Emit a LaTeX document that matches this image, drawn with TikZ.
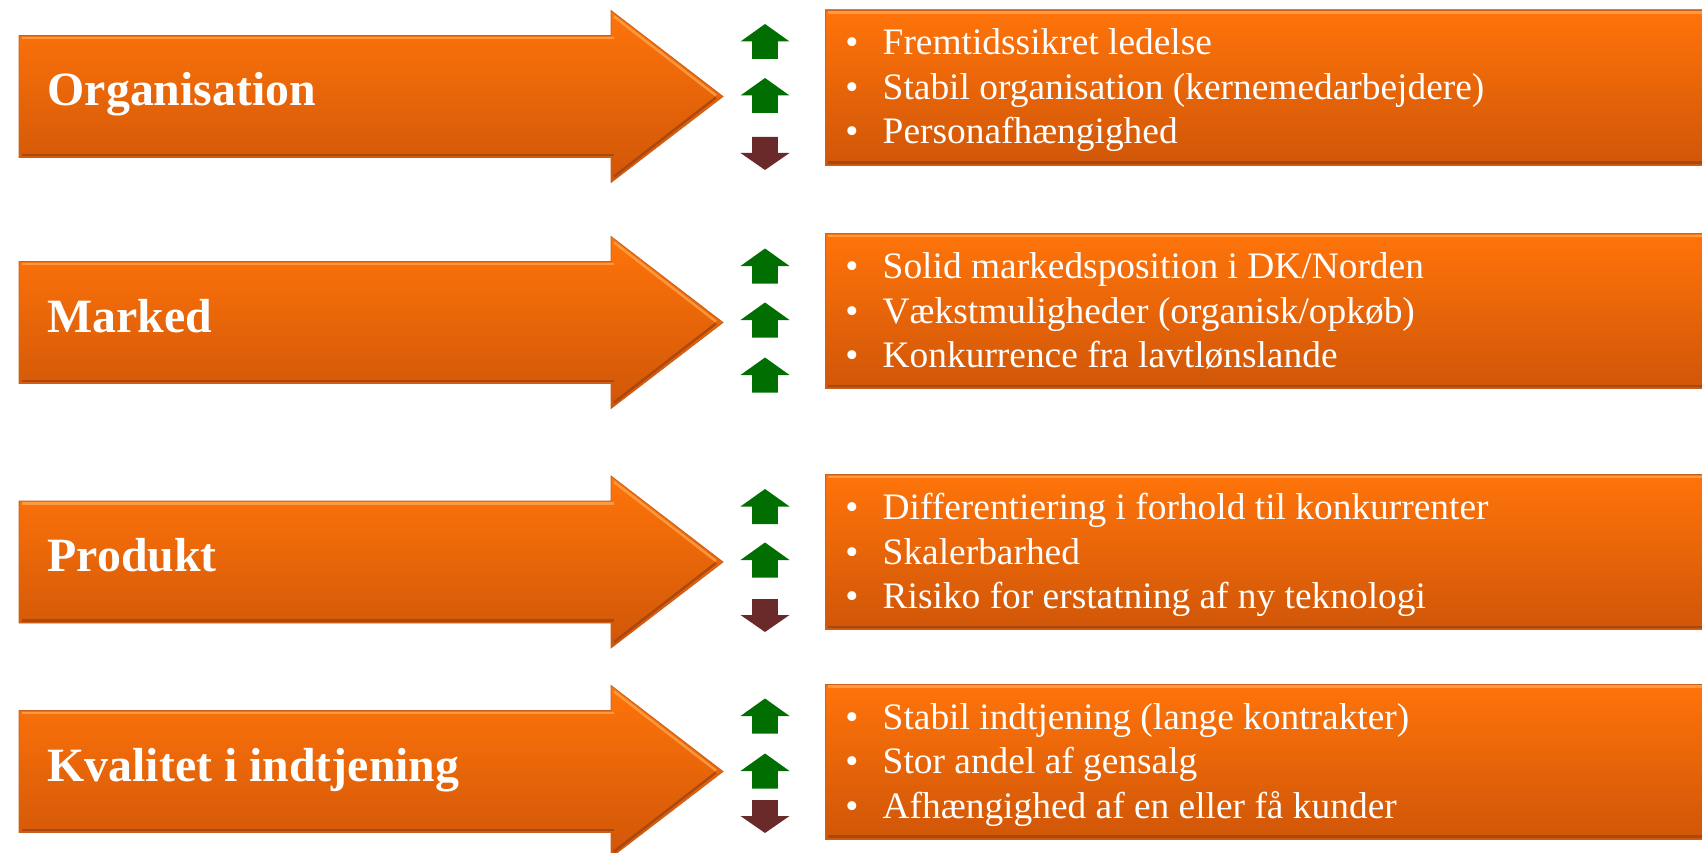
\documentclass[tikz,border=0pt]{standalone}
\usepackage{fontspec}
\setmainfont{Liberation Serif}
\definecolor{orTop}{RGB}{255,116,10}
\definecolor{orMid}{RGB}{240,104,6}
\definecolor{orBot}{RGB}{208,86,8}
\definecolor{orEdge}{RGB}{200,96,30}
\definecolor{orLight}{RGB}{255,168,80}
\definecolor{orDark}{RGB}{160,68,18}
\definecolor{upGreen}{RGB}{0,110,0}
\definecolor{downRed}{RGB}{107,42,42}
\tikzset{
  bigfill/.style={top color=orTop, middle color=orMid, bottom color=orBot, draw=orEdge, line width=0.8pt},
  hilite/.style={draw=orLight, line width=2.5pt, opacity=0.75},
  shadeline/.style={draw=orDark, line width=2.5pt, opacity=0.8},
  lab/.style={anchor=base west, inner sep=0pt, text=white, font=\fontsize{47.8}{50}\selectfont\bfseries},
  item/.style={anchor=base west, inner sep=0pt, text=white, font=\fontsize{37.4}{44.5}\selectfont},
  bul/.style={anchor=base, inner sep=0pt, text=white, font=\fontsize{37.4}{44.5}\selectfont},
  uppic/.pic={\fill[upGreen] (-24.5,0) -- (0,-17.5) -- (24.5,0) -- (12.8,0) -- (12.8,17.5) -- (-12.8,17.5) -- (-12.8,0) -- cycle;},
  downpic/.pic={\fill[downRed] (-24.5,0) -- (0,17) -- (24.5,0) -- (12.8,0) -- (12.8,-16) -- (-12.8,-16) -- (-12.8,0) -- cycle;}
}
\begin{document}
\begin{tikzpicture}[x=1pt,y=-1pt]
\useasboundingbox (0,0) rectangle (1702,853);
% big arrows with labels
\foreach \i/\c/\lab in {1/96.5/Organisation, 2/322.5/Marked, 3/562/Produkt, 4/771.5/Kvalitet i indtjening}{
  \path[bigfill] (19,\c-61) -- (611,\c-61) -- (611,\c-86) -- (723,\c) -- (611,\c+86) -- (611,\c+61) -- (19,\c+61) -- cycle;
  \draw[hilite] (22,\c-58.5) -- (614,\c-58.5);
  \draw[hilite] (614,\c-80) -- (716,\c-1);
  \draw[shadeline] (22,\c+58.5) -- (614,\c+58.5);
  \draw[shadeline] (614,\c+80) -- (716,\c+1);
  \node[lab] (lab\i) at (47.5,\c+9.5) {\lab};
}
% boxes
\foreach \i/\t in {1/10, 2/233.5, 3/474.5, 4/684}{
  \path[bigfill] (825,\t) rectangle (1712,\t+155);
  \draw[hilite] (828,\t+2.5) -- (1702,\t+2.5);
  \draw[shadeline] (828,\t+152.5) -- (1702,\t+152.5);
}
% items
\foreach \t/\name/\txt in {
  10/a1/{Fremtidssikret ledelse},
  54.5/a2/{Stabil organisation (kernemedarbejdere)},
  99/a3/{Personafhængighed},
  233.5/b1/{Solid markedsposition i DK/Norden},
  278/b2/{Vækstmuligheder (organisk/opkøb)},
  322.5/b3/{Konkurrence fra lavtlønslande},
  474.5/c1/{Differentiering i forhold til konkurrenter},
  519/c2/{Skalerbarhed},
  563.5/c3/{Risiko for erstatning af ny teknologi},
  684/d1/{Stabil indtjening (lange kontrakter)},
  728.5/d2/{Stor andel af gensalg},
  773/d3/{Afhængighed af en eller få kunder}}{
  \node[bul] (bul\name) at (852,\t+45) {\textbullet};
  \node[item] (txt\name) at (882.5,\t+45) {\txt};
}
% small indicator arrows
\pic at (765,41.5) {uppic};
\pic at (765,95.5) {uppic};
\pic at (765,153) {downpic};
\pic at (765,266) {uppic};
\pic at (765,320) {uppic};
\pic at (765,375) {uppic};
\pic at (765,506.5) {uppic};
\pic at (765,560) {uppic};
\pic at (765,615) {downpic};
\pic at (765,716) {uppic};
\pic at (765,771) {uppic};
\pic at (765,816) {downpic};
\end{tikzpicture}
\end{document}
